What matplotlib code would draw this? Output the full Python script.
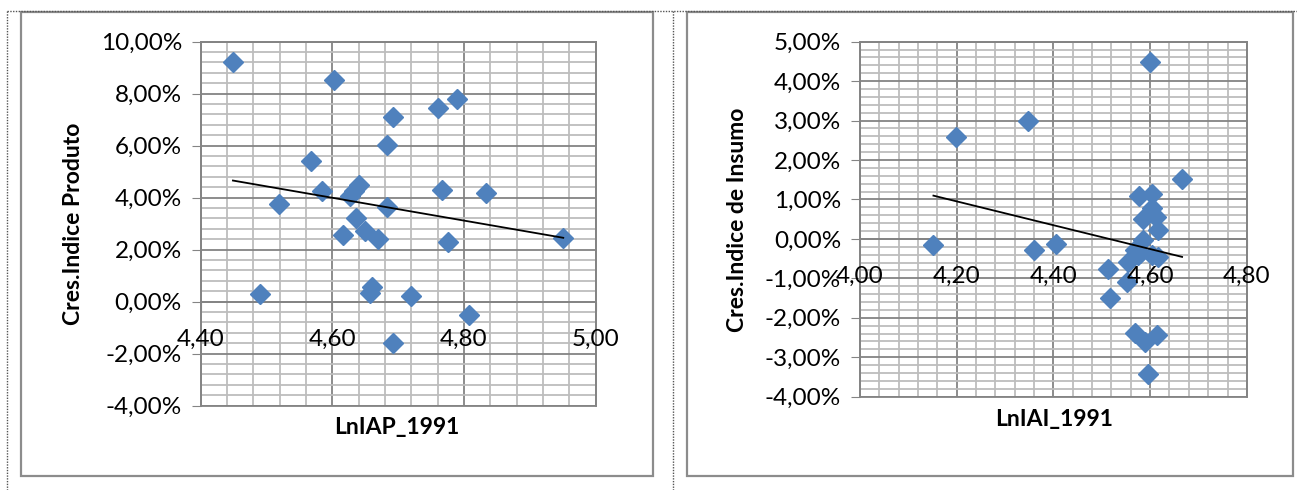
import numpy as np
import matplotlib
matplotlib.use('Agg')
import matplotlib.pyplot as plt
from matplotlib.ticker import MultipleLocator, FixedLocator
from matplotlib.lines import Line2D
from matplotlib.patches import Rectangle
from matplotlib.transforms import ScaledTranslation

# ---------------- data ----------------
lniap_1991 = [4.449, 4.603, 4.789, 4.760, 4.693, 4.683, 4.568, 4.584, 4.641,
              4.633, 4.627, 4.766, 4.833, 4.519, 4.683, 4.636, 4.650, 4.616,
              4.669, 4.776, 4.951, 4.490, 4.661, 4.657, 4.719, 4.807, 4.692]
cres_produto = [9.21, 8.51, 7.78, 7.44, 7.12, 6.01, 5.42, 4.27, 4.47,
                4.25, 4.05, 4.29, 4.19, 3.75, 3.64, 3.20, 2.73, 2.58,
                2.42, 2.29, 2.46, 0.29, 0.55, 0.32, 0.23, -0.53, -1.58]

lniai_1991 = [4.600, 4.347, 4.199, 4.666, 4.576, 4.603, 4.603, 4.612, 4.586,
              4.617, 4.586, 4.152, 4.405, 4.360, 4.569, 4.575, 4.603, 4.617,
              4.555, 4.513, 4.552, 4.517, 4.569, 4.614, 4.589, 4.596, 4.580]
cres_insumo = [4.49, 3.00, 2.59, 1.51, 1.10, 1.13, 0.78, 0.56, 0.50,
               0.23, -0.03, -0.15, -0.13, -0.28, -0.28, -0.40, -0.41, -0.45,
               -0.58, -0.75, -1.09, -1.49, -2.38, -2.44, -2.61, -3.43, -0.35]

left_xticks = [4.40, 4.60, 4.80, 5.00]
left_xticklabels = ['4,40', '4,60', '4,80', '5,00']
left_yticks = [-4, -2, 0, 2, 4, 6, 8, 10]
left_yticklabels = ['-4,00%', '-2,00%', '0,00%', '2,00%', '4,00%', '6,00%', '8,00%', '10,00%']

right_xticks = [4.00, 4.20, 4.40, 4.60, 4.80]
right_xticklabels = ['4,00', '4,20', '4,40', '4,60', '4,80']
right_yticks = [-4, -3, -2, -1, 0, 1, 2, 3, 4, 5]
right_yticklabels = ['-4,00%', '-3,00%', '-2,00%', '-1,00%', '0,00%', '1,00%',
                     '2,00%', '3,00%', '4,00%', '5,00%']

left_xlabel = 'LnIAP_1991'
left_ylabel = 'Cres.Indice Produto'
right_xlabel = 'LnIAI_1991'
right_ylabel = 'Cres.Indice de Insumo'

# ---------------- style ----------------
W, H, DPI = 1297, 490, 100
plt.rcParams['font.family'] = ['Lato', 'DejaVu Sans']
MARKER = '#4F81BD'
MAJ = '#848484'
MIN = '#bdbdbd'
FRAME = '#8c8c8c'
TICKFS = 17.5
TITLEFS = 16.5

fig = plt.figure(figsize=(W / DPI, H / DPI), dpi=DPI)


def fx(px):
    return px / W


def fy(py):
    return 1 - py / H


def rect(x0, y0, x1, y1):
    return [fx(x0), fy(y1), (x1 - x0) / W, (y1 - y0) / H]


# dotted page lines
dot = dict(transform=fig.transFigure, color='#555555', lw=1.0, linestyle=(0, (1, 1)))
fig.add_artist(Line2D([fx(7), 1], [fy(11), fy(11)], **dot))
fig.add_artist(Line2D([fx(7), fx(7)], [fy(11), 0], **dot))
fig.add_artist(Line2D([fx(672.7), fx(672.7)], [fy(11), 0], **dot))

# chart frames
for (x0, y0, x1, y1) in [(21, 12.5, 653, 475.5), (686.7, 12.5, 1292.7, 475.5)]:
    fig.add_artist(Rectangle((fx(x0), fy(y1)), (x1 - x0) / W, (y1 - y0) / H,
                             transform=fig.transFigure, fill=False,
                             edgecolor=FRAME, lw=1.6))


def make(axrect, x, y, xlim, ylim, xminor, yminor, xticks, xlabels, yticks, ylabels):
    ax = fig.add_axes(axrect)
    ax.set_xlim(xlim)
    ax.set_ylim(ylim)
    ax.xaxis.set_major_locator(FixedLocator(xticks))
    ax.xaxis.set_minor_locator(MultipleLocator(xminor))
    ax.yaxis.set_major_locator(FixedLocator(yticks))
    ax.yaxis.set_minor_locator(MultipleLocator(yminor))
    ax.set_xticklabels([])
    ax.set_yticklabels(ylabels)
    ax.grid(which='minor', color=MIN, lw=1.3, zorder=0)
    ax.grid(which='major', color=MAJ, lw=1.3, zorder=0.5)
    ax.set_axisbelow(True)
    for s in ax.spines.values():
        s.set_color(MAJ)
        s.set_linewidth(1.3)
    ax.spines['bottom'].set_position(('data', 0))
    ax.add_patch(Rectangle((0, 0), 1, 1, transform=ax.transAxes, fill=False,
                           edgecolor=MAJ, lw=1.3, clip_on=False, zorder=1))
    ax.tick_params(axis='both', which='minor', length=0)
    ax.tick_params(axis='y', which='major', direction='out', length=6.5,
                   color=MAJ, labelsize=TICKFS, pad=7)
    ax.tick_params(axis='x', which='major', direction='out', length=6.5,
                   color=MAJ)
    # x tick labels sit just under the horizontal axis (y = 0), on top of the grid
    off = ax.transData + ScaledTranslation(0, -19.5 / 72, fig.dpi_scale_trans)
    for xv, lab in zip(xticks, xlabels):
        ax.text(xv, 0, lab, transform=off, ha='center', va='top',
                fontsize=TICKFS, zorder=6, clip_on=False)
    ax.plot(x, y, linestyle='none', marker='D', ms=10.5, mfc=MARKER,
            mec=MARKER, zorder=3)
    coef = np.polyfit(x, y, 1)
    xs = np.array([min(x), max(x)])
    ax.plot(xs, np.polyval(coef, xs), color='black', lw=1.3, zorder=4)
    return ax


axL = make(rect(200.7, 41.7, 595.5, 405.7), lniap_1991, cres_produto,
           (4.40, 5.00), (-4, 10), 0.04, 0.4,
           left_xticks, left_xticklabels, left_yticks, left_yticklabels)
axR = make(rect(859.9, 41.7, 1246.9, 396.7), lniai_1991, cres_insumo,
           (4.00, 4.80), (-4, 5), 0.04, 0.2,
           right_xticks, right_xticklabels, right_yticks, right_yticklabels)

fig.text(fx(397), fy(427), left_xlabel, ha='center', va='center',
         fontsize=TITLEFS, fontweight='bold')
fig.text(fx(73.5), fy(223.5), left_ylabel, ha='center', va='center',
         rotation=90, fontsize=TITLEFS, fontweight='bold')
fig.text(fx(1053.6), fy(419), right_xlabel, ha='center', va='center',
         fontsize=TITLEFS, fontweight='bold')
fig.text(fx(738), fy(220), right_ylabel, ha='center', va='center',
         rotation=90, fontsize=TITLEFS, fontweight='bold')

fig.savefig('out.png', dpi=DPI, facecolor='white')
